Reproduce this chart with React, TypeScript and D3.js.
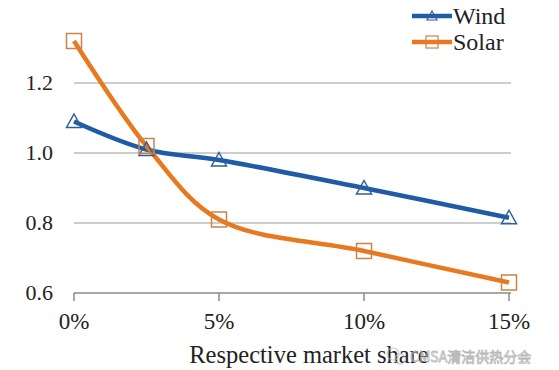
import * as d3 from "d3";

const shares = [0, 0.025, 0.05, 0.1, 0.15];
const windValues = [1.09, 1.01, 0.98, 0.9, 0.815];
const solarValues = [1.32, 1.02, 0.81, 0.72, 0.63];
const xTicks = [0, 0.05, 0.1, 0.15];
const yTicks = [0.6, 0.8, 1.0, 1.2];
const seriesNames = ["Wind", "Solar"];

const WIDTH = 559;
const HEIGHT = 370;
const BLUE = "#1f5ba6";
const ORANGE = "#e8791f";
const FONT = "Liberation Serif, DejaVu Serif, Times New Roman, serif";

const App = () => {
  const x = d3.scaleLinear().domain([0, 0.15]).range([74, 509]);
  const y = d3.scaleLinear().domain([0.6, 1.4]).range([293, 13]);

  const line = d3
    .line<[number, number]>()
    .x((d) => x(d[0]))
    .y((d) => y(d[1]))
    .curve(d3.curveCatmullRom.alpha(0.5));

  const windPts = shares.map((s, i): [number, number] => [s, windValues[i]]);
  const solarPts = shares.map((s, i): [number, number] => [s, solarValues[i]]);

  const tri = (cx: number, cy: number, r: number) =>
    `M${cx},${cy - r}L${cx + r},${cy + r * 0.8}L${cx - r},${cy + r * 0.8}Z`;

  return (
    <svg
      width={WIDTH}
      height={HEIGHT}
      style={{ position: "absolute", left: 0, top: 0, background: "#fff", fontFamily: FONT }}
    >
      {/* grid */}
      {yTicks.slice(1).map((t) => (
        <line
          key={t}
          x1={x(0)}
          x2={511}
          y1={y(t)}
          y2={y(t)}
          stroke="#bdbdbd"
          strokeWidth={1.5}
        />
      ))}
      {/* x axis */}
      <line x1={x(0)} x2={511} y1={y(0.6)} y2={y(0.6)} stroke="#8a8a8a" strokeWidth={1.5} />
      {xTicks.map((t) => (
        <g key={t}>
          <line x1={x(t)} x2={x(t)} y1={y(0.6)} y2={y(0.6) + 8} stroke="#8a8a8a" strokeWidth={1.5} />
          <text x={x(t)} y={329} textAnchor="middle" fontSize={23} fill="#222">
            {Math.round(t * 100)}%
          </text>
        </g>
      ))}
      {yTicks.map((t) => (
        <text key={t} x={53} y={y(t) + 7} textAnchor="end" fontSize={22} fill="#222">
          {t.toFixed(1)}
        </text>
      ))}
      <text x={309} y={363} textAnchor="middle" fontSize={24.5} fill="#222">
        Respective market share
      </text>

      {/* series */}
      <path d={line(windPts) || ""} fill="none" stroke={BLUE} strokeWidth={4.5} />
      <path d={line(solarPts) || ""} fill="none" stroke={ORANGE} strokeWidth={4.5} />
      {windPts.map((p, i) => (
        <path
          key={i}
          d={tri(x(p[0]), y(p[1]), 7.5)}
          fill="none"
          stroke="#2d5f9e"
          strokeWidth={1.5}
        />
      ))}
      {solarPts.map((p, i) => (
        <rect
          key={i}
          x={x(p[0]) - 7.5}
          y={y(p[1]) - 7.5}
          width={15}
          height={15}
          fill="none"
          stroke="#c9834a"
          strokeWidth={1.5}
        />
      ))}

      {/* legend */}
      {seriesNames.map((name, i) => {
        const ly = 16 + i * 26;
        const color = i === 0 ? BLUE : ORANGE;
        return (
          <g key={name}>
            <line x1={412} x2={452} y1={ly} y2={ly} stroke={color} strokeWidth={4.5} />
            {i === 0 ? (
              <path d={tri(432, ly, 5)} fill="none" stroke="#2d5f9e" strokeWidth={1.2} />
            ) : (
              <rect x={426} y={ly - 6} width={12} height={12} fill="none" stroke="#c9834a" strokeWidth={1.2} />
            )}
            <text x={453} y={ly + 8} fontSize={24} fill="#222">
              {name}
            </text>
          </g>
        );
      })}

      {/* watermark */}
      <g opacity={0.7}>
        <circle cx={393} cy={354} r={6} fill="none" stroke="#bbb" strokeWidth={1.2} />
        <circle cx={400} cy={359} r={5} fill="none" stroke="#bbb" strokeWidth={1.2} />
        <text
          x={410}
          y={362}
          fontFamily="Noto Sans CJK SC, Noto Sans, sans-serif"
          fontSize={14}
          fill="#fff"
          stroke="#9a9a9a"
          strokeWidth={0.8}
        >
          CMSA清洁供热分会
        </text>
      </g>
    </svg>
  );
};

export default App;
